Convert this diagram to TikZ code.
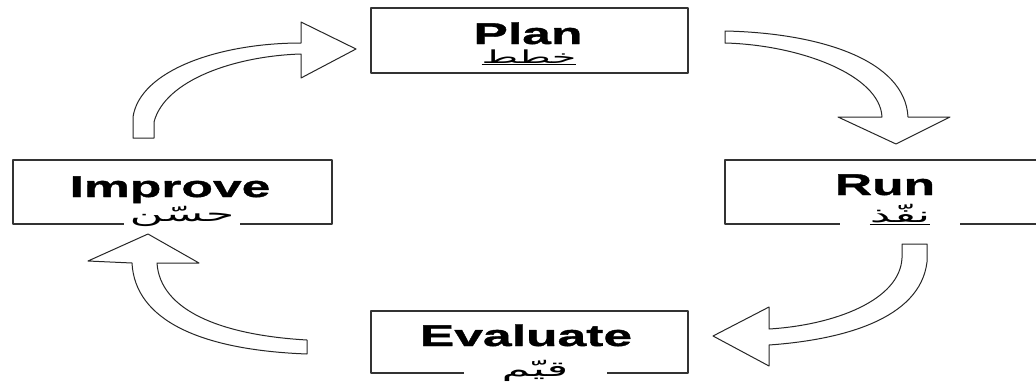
\documentclass[tikz,border=0pt]{standalone}
\usepackage{fontspec}
\setmainfont{Liberation Sans}
\newfontfamily\lblfont[FakeStretch=1.72,FakeBold=1.2]{Liberation Sans Bold}
\newfontfamily\arabicfont[Script=Arabic,FakeStretch=2.2]{DejaVu Sans}
\TeXXeTstate=1

\begin{document}
\begin{tikzpicture}[line cap=round,line join=round,x=1pt,y=-1pt,
  box/.style={draw=black!80,line width=1.4pt,rectangle,inner sep=0pt},
  entext/.style={font=\lblfont\fontsize{30}{30}\selectfont,anchor=base,inner sep=0pt},
  artext/.style={font=\arabicfont\fontsize{21}{21}\selectfont,anchor=base,fill=white,inner sep=2pt},
  bigarrow/.style={draw=black!85,fill=white,line width=1pt}]
\useasboundingbox (0,0) rectangle (1036,391);
\clip (0,0) rectangle (1036,391);
% boxes
\node[box,minimum width=317pt,minimum height=65pt] (plan) at (529.5,40.5) {};
\node[box,minimum width=319pt,minimum height=64pt] (improve) at (172.5,192) {};
\node[box,minimum width=319pt,minimum height=64pt] (run) at (884.5,192) {};
\node[box,minimum width=317pt,minimum height=62pt] (evaluate) at (529.5,342) {};
% arabic
\node[artext,fill=none,font=\arabicfont\fontsize{18}{18}\selectfont] (planar) at (529,63) {\underline{\beginR خطط\endR}};
\node[artext,minimum width=116pt] (improvear) at (182,221) {\beginR حسّن\endR};
\node[artext,minimum width=120pt] (runar) at (900,222) {\underline{\beginR نفّذ\endR}};
\node[artext,minimum width=143pt] (evaluatear) at (535,376) {\beginR قيّم\endR};
% english
\node[entext] (plantxt) at (528,44) {Plan};
\node[entext] (improvetxt) at (170,197) {Improve};
\node[entext] (runtxt) at (885,195) {Run};
\node[entext] (evaluatetxt) at (526,346) {Evaluate};
% arrows
\draw[bigarrow] (133,138) -- (133,117) .. controls (140,70) and (220,43) .. (301,43) -- (301,22) -- (356,49) -- (301,78) -- (301,54) .. controls (235,56) and (165,80) .. (154,122) -- (154,138) -- cycle;
\draw[bigarrow] (725,31) .. controls (820,33) and (905,60) .. (908,117) -- (950,117) -- (896,144) -- (838,117) -- (882,117) .. controls (880,75) and (800,45) .. (725,43) -- cycle;
\draw[bigarrow] (902,244) -- (927,244) -- (927,262) .. controls (920,320) and (840,340) .. (769,345) -- (769,366) -- (713,336) -- (769,307) -- (769,329) .. controls (835,325) and (900,300) .. (902,258) -- cycle;
\draw[bigarrow] (307,340) -- (307,354) .. controls (200,350) and (135,320) .. (132,263) -- (88,261) -- (148,234) -- (199,263) -- (157,263) .. controls (160,310) and (220,335) .. (307,340) -- cycle;
\end{tikzpicture}
\end{document}
